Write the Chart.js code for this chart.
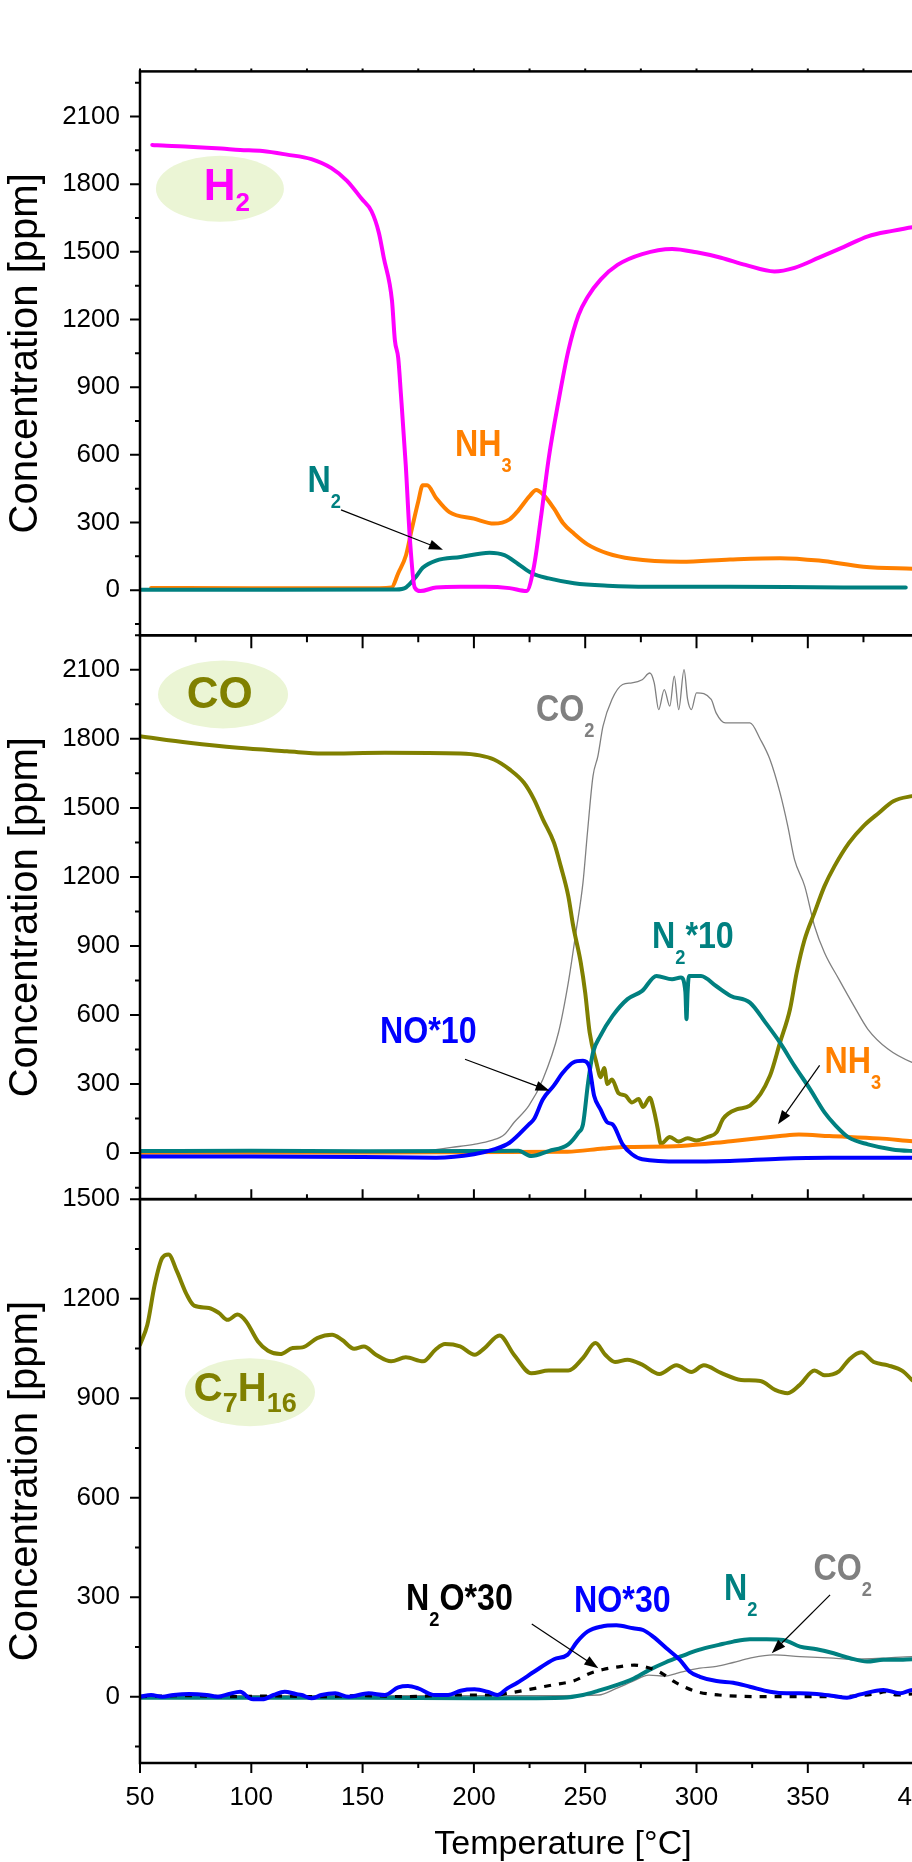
<!DOCTYPE html>
<html><head><meta charset="utf-8">
<script src="https://cdn.jsdelivr.net/npm/chart.js@4.4.1/dist/chart.umd.min.js"></script>
<style>
html,body{margin:0;padding:0;background:#fff;overflow:hidden;width:912px;height:1862px}
#wrap{position:absolute;left:0;top:0;width:1000px;height:1862px}
canvas{display:block}
</style></head>
<body><div id="wrap"><canvas id="c" width="1000" height="1862"></canvas></div>
<script>
// ---------- tick labels ----------
const xTicks = [50, 100, 150, 200, 250, 300, 350, 400];
const y1Ticks = [0, 300, 600, 900, 1200, 1500, 1800, 2100];
const y2Ticks = [0, 300, 600, 900, 1200, 1500, 1800, 2100];
const y3Ticks = [0, 300, 600, 900, 1200, 1500];

// ---------- panel 1 (H2 feed) ----------
const p1H2T = [55.5,62,72,80,86.5,95,105,116,127,136,143,149.5,154,157.3,159.5,163.2,164.5,166,167.2,169.4,171.2,173.4,176,183,194,205,216,223.6,227,230,233.6,238,242.4,247,251,257,264.5,275.6,289,300,311,322,335,344,355,366,377,388,397,400];
const p1H2V = [1974,1970,1966,1962,1958,1952,1947,1931,1911,1871,1815,1736,1680,1585,1474,1283,1108,1029,870,552,234,12,-4,12,15,15,9,-4,107,314,584,838,1061,1220,1299,1378,1442,1490,1513,1498,1474,1442,1413,1429,1474,1521,1569,1593,1609,1612];
const p1NH3T = [55,100,150,163,166,169.5,172,175,177,179,183,189,200,209,216,220,225,228,231,236,240,245,251,260,271,293,315,337.5,355,375,397,400];
const p1NH3V = [10,8,8,12,75,155,266,393,465,465,409,346,317,295,314,354,417,444,425,361,298,250,203,163,139,126,136,142,131,104,95,94];
const p1N2T = [50,100,165,169.5,174,177,183,194,207,213.7,220,226,233.6,245,260,278,315,366,394];
const p1N2V = [2,2,3,12,60,99,131,147,166,155,115,75,52,31,20,15,15,12,12];

// ---------- panel 2 (CO feed) ----------
const p2COT = [50,72,94,116,132,160,194,202.6,209,216,222.5,227,231,236,239,242.4,244.6,248,250,252,255,257,258.5,260,262,265,268,271,274,276,279,281,282.5,284,288,292,296,300,305,309,312,318,324,333,337.5,342,345,348.6,353,357.5,362,368.5,375,382,388.4,396.8,400];
const p2COV = [1811,1783,1761,1746,1736,1739,1736,1728,1710,1667,1609,1537,1450,1348,1247,1117,987,828,697,524,394,330,370,300,320,260,250,220,235,200,240,180,110,40,70,50,65,55,70,90,150,190,206,336,480,625,784,929,1045,1160,1247,1348,1421,1479,1529,1551,1555];
const p2CO2T = [50,150,178,190,200,208,213.7,218,224.7,231,238,242.4,245.8,249,251,253.5,255.7,258,262,266.8,271,275.6,279,281,283,285.5,288,290,292,294.4,296,297.7,300,306.6,308.8,313,324,328.7,333,337.5,341,344,348.6,353,357.5,364,370.7,377,386,396.8,400];
const p2CO2V = [5,5,10,25,38,55,81,133,206,321,524,741,958,1175,1392,1638,1725,1855,1971,2036,2043,2057,2086,2043,1927,2014,1942,2072,1927,2101,1971,1927,2000,1971,1913,1869,1869,1797,1710,1566,1421,1276,1160,987,871,755,640,538,452,394,385];
const p2N2T = [50,100,150,200,220,225.8,233.6,242.4,247,249,251.3,253.5,256.8,262.3,269,275.6,282,289,293,295,295.5,296,296.6,302,308.8,315.4,324,331,337.5,344,351,357.5,362,368.5,377,388,397,400];
const p2N2V = [9,10,8,9,10,-13,9,38,90,125,307,437,509,596,669,705,770,755,763,700,582,700,770,770,726,683,654,567,480,379,278,177,125,67,38,16,9,8];
const p2NOT = [50,100,150,183,200,209,216,224.7,227,231,235.8,240,244.6,249,251.7,254,256.8,260,262.3,266.8,271,275.6,293,315,337.5,359.7,397,400];
const p2NOV = [-15,-15,-17,-20,-5,16,45,125,148,234,292,350,394,401,379,249,191,133,125,38,-5,-27,-37,-34,-24,-20,-20,-20];
const p2NH3T = [50,150,242,258,266.8,293,315.4,337.5,346,359.7,381.8,397,400];
const p2NH3V = [2,3,6,20,26,31,52,74,81,74,64,52,50];

// ---------- panel 3 (C7H16 feed) ----------
const p3HCT = [50,53.3,56.6,60,62.8,66.6,71,74.3,81,85.4,89.4,93.8,97.6,103,107.5,113,118.6,123,129.6,136.3,140.7,146.2,150.6,156,162.8,169.4,177.2,182.7,187,193.8,200.4,204.8,211.5,218,225.8,233.6,242.4,249,254.6,259,263.4,269,275.6,283.3,291,297.7,303.3,311,320,328.7,335.3,341,346.4,353,357.5,364,368.5,374,379.6,386,392.8,396.8,400];
const p3HCV = [1061,1121,1242,1323,1333,1282,1212,1179,1172,1157,1136,1152,1132,1071,1043,1033,1051,1053,1081,1091,1076,1049,1056,1031,1011,1023,1011,1046,1063,1056,1031,1051,1089,1031,975,983,983,1021,1066,1031,1009,1016,1001,973,999,979,999,976,955,952,925,915,940,983,969,981,1016,1038,1009,999,981,955,940];
const p3NOT = [50,55,60,65,72,80,85,90,95,100,105,110,115,120,122.6,127,131.5,137.7,143.7,152.7,160,166,170.4,175,182.4,188.4,194,200.3,206,210.5,215,219.5,227,236,242,246.4,251,257,264,271.6,276,280.5,286.5,292.5,297,301.5,309,316.5,324,333,340.5,346.5,354,361.6,367.6,373.6,384,391.6,397,400];
const p3NOV = [0,5,0,5,8,5,0,8,15,-7,-8,5,15,8,5,-5,5,10,0,10,5,28,32,25,5,5,18,22,15,5,25,42,75,113,126,166,196,211,215,206,201,181,146,111,75,60,47,42,30,15,10,10,8,2,-3,7,20,10,20,18];
const p3N2OT = [50,70,90,110,130,150,170,190,210,215,225,235,245,252,258,265,272,278,284,290,295,300,310,330,360,380,385,390,397,400];
const p3N2OV = [0,3,0,2,0,3,0,5,5,10,22,35,48,70,82,90,95,88,72,45,28,15,5,0,0,8,15,5,8,5];
const p3N2T = [50,100,150,200,240,249,256,264,271,278.6,286,293.6,301,310,316.5,324,331.5,339,346.5,354,361.6,369,376.6,384,391.6,397,400];
const p3N2V = [-3,-3,-3,-5,-3,5,18,35,52,80,103,123,141,156,166,173,173,171,151,143,131,116,106,111,111,113,112];
const p3CO2T = [50,150,240,256,264,271,278.6,286,291,293.6,301.5,309,316.5,324,334.5,346.5,361.6,369,384,397,400];
const p3CO2V = [3,3,3,5,25,45,65,62,70,75,86,91,103,116,126,121,116,113,116,121,121];

// ---------- labels (data coordinates) ----------
const ellipses = [
  {axis:'y1', x:85.9, y:1780, rx:64, ry:33},
  {axis:'y2', x:87.3, y:1993, rx:65, ry:34},
  {axis:'y3', x:99.4, y:918,  rx:65, ry:34}
];
const bigLabels = [
  {axis:'y1', x:78.6, y:1730, parts:['H','_2'], color:'#ff00ff', size:44, sub:26, subDy:11},
  {axis:'y2', x:71.0, y:1934, parts:['CO'], color:'#808000', size:44, sub:26, subDy:11},
  {axis:'y3', x:74.2, y:890,  parts:['C','_7','H','_16'], color:'#808000', size:40, sub:27, subDy:11}
];
const labels = [
  {axis:'y1', x:125.2, y:436, parts:['N','_2'], color:'#008080'},
  {axis:'y1', x:191.5, y:595, parts:['NH','_3'], color:'#ff8000'},
  {axis:'y2', x:227.9, y:1878, parts:['CO','_2'], color:'#808080'},
  {axis:'y2', x:280.0, y:893, parts:['N','_2','*10'], color:'#008080'},
  {axis:'y2', x:157.8, y:480, parts:['NO*10'], color:'#0000ff'},
  {axis:'y2', x:357.5, y:350, parts:['NH','_3'], color:'#ff8000'},
  {axis:'y3', x:169.5, y:262, parts:['N','_2','O*30'], color:'#000000'},
  {axis:'y3', x:245.0, y:256, parts:['NO*30'], color:'#0000ff'},
  {axis:'y3', x:312.4, y:292, parts:['N','_2'], color:'#008080'},
  {axis:'y3', x:352.5, y:352, parts:['CO','_2'], color:'#808080'}
];
const arrows = [
  {axis:'y1', x1:140.3, y1:356, x2:186.1, y2:179},
  {axis:'y2', x1:196.0, y1:408, x2:234.0, y2:271},
  {axis:'y2', x1:355.3, y1:381, x2:336.6, y2:125},
  {axis:'y3', x1:226.0, y1:219, x2:255.9, y2:86},
  {axis:'y3', x1:360.0, y1:307, x2:333.8, y2:131}
];

const FAM = '"Liberation Sans", Arial, Helvetica, sans-serif';
const mk = (T, V) => T.map((t, i) => ({x: t, y: V[i]}));
const line = (label, T, V, axis, color, width, extra) => Object.assign({
  label, data: mk(T, V), yAxisID: axis, borderColor: color, backgroundColor: color,
  borderWidth: width, pointRadius: 0, fill: false, cubicInterpolationMode: 'monotone',
  borderJoinStyle: 'round', borderCapStyle: 'round'
}, extra || {});

function drawRich(ctx, x, y, parts, color, size, subSize, subDy, sx) {
  ctx.save();
  ctx.translate(x, y);
  ctx.scale(sx, 1);
  ctx.fillStyle = color;
  ctx.textAlign = 'left';
  ctx.textBaseline = 'alphabetic';
  let cx = 0;
  parts.forEach(p => {
    const sub = p.startsWith('_');
    const t = sub ? p.slice(1) : p;
    ctx.font = 'bold ' + (sub ? subSize : size) + 'px ' + FAM;
    ctx.fillText(t, cx, sub ? subDy : 0);
    cx += ctx.measureText(t).width;
  });
  ctx.restore();
}

const panelPlugin = {
  id: 'panels',
  beforeDatasetsDraw(chart) {
    const ctx = chart.ctx, xs = chart.scales.x;
    ellipses.forEach(e => {
      const ys = chart.scales[e.axis];
      ctx.save();
      ctx.fillStyle = '#ebf5d5';
      ctx.beginPath();
      ctx.ellipse(xs.getPixelForValue(e.x), ys.getPixelForValue(e.y), e.rx, e.ry, 0, 0, Math.PI * 2);
      ctx.fill();
      ctx.restore();
    });
  },
  beforeDatasetDraw(chart, args) {
    const ys = chart.scales[args.meta.yAxisID], ca = chart.chartArea, ctx = chart.ctx;
    ctx.save();
    ctx.beginPath();
    ctx.rect(ca.left, ys.top, ca.right - ca.left, ys.bottom - ys.top);
    ctx.clip();
  },
  afterDatasetDraw(chart) { chart.ctx.restore(); },
  afterDatasetsDraw(chart) {
    const ctx = chart.ctx, ca = chart.chartArea, xs = chart.scales.x;
    const ax = ['y1', 'y2', 'y3'].map(k => chart.scales[k]);
    bigLabels.forEach(l => {
      const ys = chart.scales[l.axis];
      drawRich(ctx, xs.getPixelForValue(l.x), ys.getPixelForValue(l.y), l.parts, l.color, l.size, l.sub, l.subDy, 1);
    });
    labels.forEach(l => {
      const ys = chart.scales[l.axis];
      drawRich(ctx, xs.getPixelForValue(l.x), ys.getPixelForValue(l.y), l.parts, l.color, 37, 21, 16, 0.87);
    });
    arrows.forEach(a => {
      const ys = chart.scales[a.axis];
      const x1 = xs.getPixelForValue(a.x1), y1 = ys.getPixelForValue(a.y1);
      const x2 = xs.getPixelForValue(a.x2), y2 = ys.getPixelForValue(a.y2);
      const ang = Math.atan2(y2 - y1, x2 - x1), L = 14, W = 5;
      ctx.save();
      ctx.strokeStyle = '#000'; ctx.fillStyle = '#000'; ctx.lineWidth = 1.2;
      ctx.beginPath(); ctx.moveTo(x1, y1);
      ctx.lineTo(x2 - L * Math.cos(ang) * 0.8, y2 - L * Math.sin(ang) * 0.8); ctx.stroke();
      ctx.beginPath();
      ctx.moveTo(x2, y2);
      ctx.lineTo(x2 - L * Math.cos(ang) + W * Math.sin(ang), y2 - L * Math.sin(ang) - W * Math.cos(ang));
      ctx.lineTo(x2 - L * Math.cos(ang) - W * Math.sin(ang), y2 - L * Math.sin(ang) + W * Math.cos(ang));
      ctx.closePath(); ctx.fill();
      ctx.restore();
    });
    ctx.save();
    ctx.strokeStyle = '#000';
    ctx.lineWidth = 2.5;
    ax.forEach(ys => ctx.strokeRect(ca.left, ys.top, ca.right - ca.left, ys.bottom - ys.top));
    ctx.lineWidth = 2;
    const yTickSets = [y1Ticks, y2Ticks, y3Ticks];
    ax.forEach((ys, i) => {
      const maj = yTickSets[i], step = maj[1] - maj[0];
      ctx.beginPath();
      maj.forEach(v => { const p = ys.getPixelForValue(v); ctx.moveTo(ca.left - 10, p); ctx.lineTo(ca.left, p); });
      for (let v = maj[0] - step / 2; v <= ys.max + 1e-6; v += step) {
        if (v < ys.min) continue;
        const p = ys.getPixelForValue(v); ctx.moveTo(ca.left - 5, p); ctx.lineTo(ca.left, p);
      }
      ctx.stroke();
    });
    const xStep = xTicks[1] - xTicks[0];
    const xMin = xTicks.map(v => v + xStep / 2);
    const xt = (yBase, dir, lmaj, lmin) => {
      ctx.beginPath();
      xTicks.forEach(v => { const p = xs.getPixelForValue(v); ctx.moveTo(p, yBase); ctx.lineTo(p, yBase + dir * lmaj); });
      xMin.forEach(v => { if (v > xs.max) return; const p = xs.getPixelForValue(v); ctx.moveTo(p, yBase); ctx.lineTo(p, yBase + dir * lmin); });
      ctx.stroke();
    };
    xt(ax[2].bottom, 1, 10, 5);
    xt(ax[0].bottom, 1, 13, 7);
    xt(ax[1].bottom, -1, 10, 5);
    xt(ax[0].top, -1, 3, 3);
    ctx.restore();
  }
};

const yCommon = (ticksArr, min, max) => ({
  type: 'linear', position: 'left', stack: 'panels', stackWeight: 1, min, max,
  afterBuildTicks: a => { a.ticks = ticksArr.map(v => ({value: v})); },
  afterFit: s => { s.width = 140; },
  grid: {display: false, drawTicks: false},
  border: {display: false},
  ticks: {font: {family: FAM, size: 26}, color: '#000', padding: 20, autoSkip: false, callback: v => String(v)},
  title: {display: true, text: 'Concentration [ppm]', font: {family: FAM, size: 40, lineHeight: 1.15}, color: '#000', padding: {top: 3, bottom: 0}}
});

new Chart(document.getElementById('c'), {
  type: 'line',
  data: {
    datasets: [
      line('H2', p1H2T, p1H2V, 'y1', '#ff00ff', 4),
      line('N2', p1N2T, p1N2V, 'y1', '#008080', 4),
      line('NH3', p1NH3T, p1NH3V, 'y1', '#ff8000', 4),
      line('NO*10', p2NOT, p2NOV, 'y2', '#0000ff', 4),
      line('N2*10', p2N2T, p2N2V, 'y2', '#008080', 4),
      line('NH3 (CO)', p2NH3T, p2NH3V, 'y2', '#ff8000', 4),
      line('CO', p2COT, p2COV, 'y2', '#808000', 4),
      line('CO2', p2CO2T, p2CO2V, 'y2', '#808080', 1.3),
      line('C7H16', p3HCT, p3HCV, 'y3', '#808000', 4),
      line('NO*30', p3NOT, p3NOV, 'y3', '#0000ff', 4),
      line('N2O*30', p3N2OT, p3N2OV, 'y3', '#000000', 3.2, {borderDash: [7, 8], borderCapStyle: 'butt'}),
      line('N2 (HC)', p3N2T, p3N2V, 'y3', '#008080', 4),
      line('CO2 (HC)', p3CO2T, p3CO2V, 'y3', '#808080', 1.3)
    ]
  },
  options: {
    responsive: false, animation: false, devicePixelRatio: 1,
    layout: {padding: {top: 71.4, right: 14.1, left: 0, bottom: 0}},
    plugins: {legend: {display: false}, tooltip: {enabled: false}},
    scales: {
      x: {
        type: 'linear', position: 'bottom', min: 50, max: 430,
        afterBuildTicks: a => { a.ticks = xTicks.map(v => ({value: v})); },
        afterFit: s => { s.height = 99; },
        grid: {display: false, drawTicks: false},
        border: {display: false},
        ticks: {font: {family: FAM, size: 26}, color: '#000', padding: 19, maxRotation: 0, autoSkip: false, callback: v => String(v)},
        title: {display: true, text: 'Temperature [°C]', font: {family: FAM, size: 34, lineHeight: 1.05}, color: '#000', padding: 0}
      },
      y3: yCommon(y3Ticks, -200, 1500),
      y2: yCommon(y2Ticks, -200, 2250),
      y1: yCommon(y1Ticks, -200, 2300)
    }
  },
  plugins: [panelPlugin]
});
</script></body></html>
